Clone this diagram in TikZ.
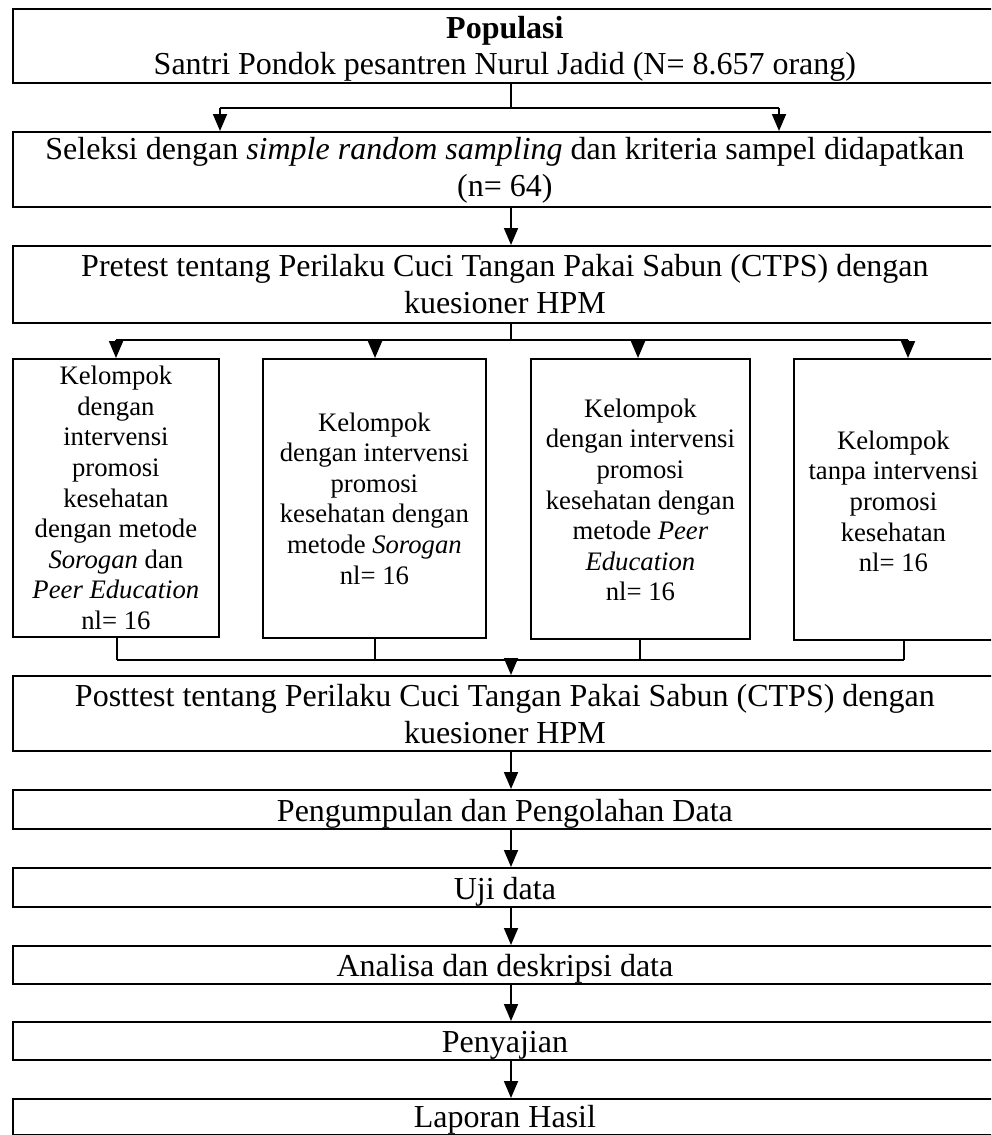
\documentclass[tikz,border=0pt]{standalone}
\usepackage{fontspec}
\setmainfont{Liberation Serif}
\usetikzlibrary{arrows.meta}
\begin{document}
\begin{tikzpicture}[x=1pt,y=-1pt,
  box/.style={draw,line width=1.8pt,inner sep=0pt,anchor=north west},
  txt/.style={inner sep=0pt,align=center},
  big/.style={font=\fontsize{32}{36.8}\selectfont},
  small/.style={font=\fontsize{26.7}{30.6}\selectfont},
  ln/.style={line width=1.8pt},
  arr/.style={line width=1.8pt,-{Triangle[width=14pt,length=17pt]}}]
\useasboundingbox (0,0) rectangle (991,1135);
\clip (0,0) rectangle (991,1135);
% main boxes
\node[box,minimum width=984pt,minimum height=74pt] (b1) at (12,8) {};
\node[txt,big] (b1t) at ([yshift=-3pt]b1.center)
  {\textbf{Populasi}\\Santri Pondok pesantren Nurul Jadid (N= 8.657 orang)};
\node[box,minimum width=984pt,minimum height=75pt] (b2) at (12,131) {};
\node[txt,big] (b2t) at ([yshift=-1pt]b2.center)
  {Seleksi dengan \textit{simple random sampling} dan kriteria sampel didapatkan\\(n= 64)};
\node[box,minimum width=984pt,minimum height=77pt] (b3) at (12,245) {};
\node[txt,big] (b3t) at (b3.center)
  {Pretest tentang Perilaku Cuci Tangan Pakai Sabun (CTPS) dengan\\kuesioner HPM};
% group boxes
\node[box,minimum width=206pt,minimum height=278pt] (ga) at (12,358) {};
\node[txt,small] (gat) at (ga.center)
  {Kelompok\\dengan\\intervensi\\promosi\\kesehatan\\dengan metode\\\textit{Sorogan} dan\\\textit{Peer Education}\\nl= 16};
\node[box,minimum width=223pt,minimum height=279pt] (gb) at (262,358) {};
\node[txt,small] (gbt) at (gb.center)
  {Kelompok\\dengan intervensi\\promosi\\kesehatan dengan\\metode \textit{Sorogan}\\nl= 16};
\node[box,minimum width=219pt,minimum height=280pt] (gc) at (530,358) {};
\node[txt,small] (gct) at ([yshift=-1pt]gc.center)
  {Kelompok\\dengan intervensi\\promosi\\kesehatan dengan\\metode \textit{Peer}\\\textit{Education}\\nl= 16};
\node[box,minimum width=199pt,minimum height=281pt] (gd) at (793,358) {};
\node[txt,small] (gdt) at ([yshift=-2pt]gd.center)
  {Kelompok\\tanpa intervensi\\promosi\\kesehatan\\nl= 16};
% lower boxes
\node[box,minimum width=984pt,minimum height=75pt] (b4) at (12,675) {};
\node[txt,big] (b4t) at ([yshift=-1pt]b4.center)
  {Posttest tentang Perilaku Cuci Tangan Pakai Sabun (CTPS) dengan\\kuesioner HPM};
\node[box,minimum width=984pt,minimum height=39pt] (b5) at (12,789) {};
\node[txt,big] (b5t) at ([yshift=-4pt]b5.center) {Pengumpulan dan Pengolahan Data};
\node[box,minimum width=984pt,minimum height=39pt] (b6) at (12,867) {};
\node[txt,big] (b6t) at ([yshift=-4pt]b6.center) {Uji data};
\node[box,minimum width=984pt,minimum height=38pt] (b7) at (12,945) {};
\node[txt,big] (b7t) at ([yshift=-4pt]b7.center) {Analisa dan deskripsi data};
\node[box,minimum width=984pt,minimum height=38pt] (b8) at (12,1021) {};
\node[txt,big] (b8t) at ([yshift=-4pt]b8.center) {Penyajian};
\node[box,minimum width=984pt,minimum height=36pt] (b9) at (12,1098) {};
\node[txt,big] (b9t) at ([yshift=-3pt]b9.center) {Laporan Hasil};
% connectors: populasi -> seleksi
\coordinate (j1) at (511,108);
\coordinate (s1) at (220,108);
\coordinate (s2) at (779,108);
\draw[ln] (j1 |- b1.south) -- (j1);
\draw[ln] (s1) -- (s2);
\draw[arr] (s1) -- (s1 |- b2.north);
\draw[arr] (s2) -- (s2 |- b2.north);
% seleksi -> pretest
\draw[arr] (b2.south -| j1) -- (b3.north -| j1);
% pretest -> groups
\coordinate (j2) at (511,340);
\coordinate (ta) at (116,340);
\coordinate (tb) at (375,340);
\coordinate (tc) at (638,340);
\coordinate (td) at (908,340);
\draw[ln] (b3.south -| j2) -- (j2);
\draw[ln] (ta) -- (td);
\draw[arr] (ta) -- (ta |- ga.north);
\draw[arr] (tb) -- (tb |- gb.north);
\draw[arr] (tc) -- (tc |- gc.north);
\draw[arr] (td) -- (td |- gd.north);
% groups -> posttest
\coordinate (j3) at (511,660);
\coordinate (ua) at (117,660);
\coordinate (ub) at (375,660);
\coordinate (uc) at (640,660);
\coordinate (ud) at (904,660);
\draw[ln] (ua |- ga.south) -- (ua);
\draw[ln] (ub |- gb.south) -- (ub);
\draw[ln] (uc |- gc.south) -- (uc);
\draw[ln] (ud |- gd.south) -- (ud);
\draw[ln] (ua) -- (ud);
\draw[arr] (j3) -- (b4.north -| j3);
% chain
\draw[arr] (b4.south -| j3) -- (b5.north -| j3);
\draw[arr] (b5.south -| j3) -- (b6.north -| j3);
\draw[arr] (b6.south -| j3) -- (b7.north -| j3);
\draw[arr] (b7.south -| j3) -- (b8.north -| j3);
\draw[arr] (b8.south -| j3) -- (b9.north -| j3);
\end{tikzpicture}
\end{document}
